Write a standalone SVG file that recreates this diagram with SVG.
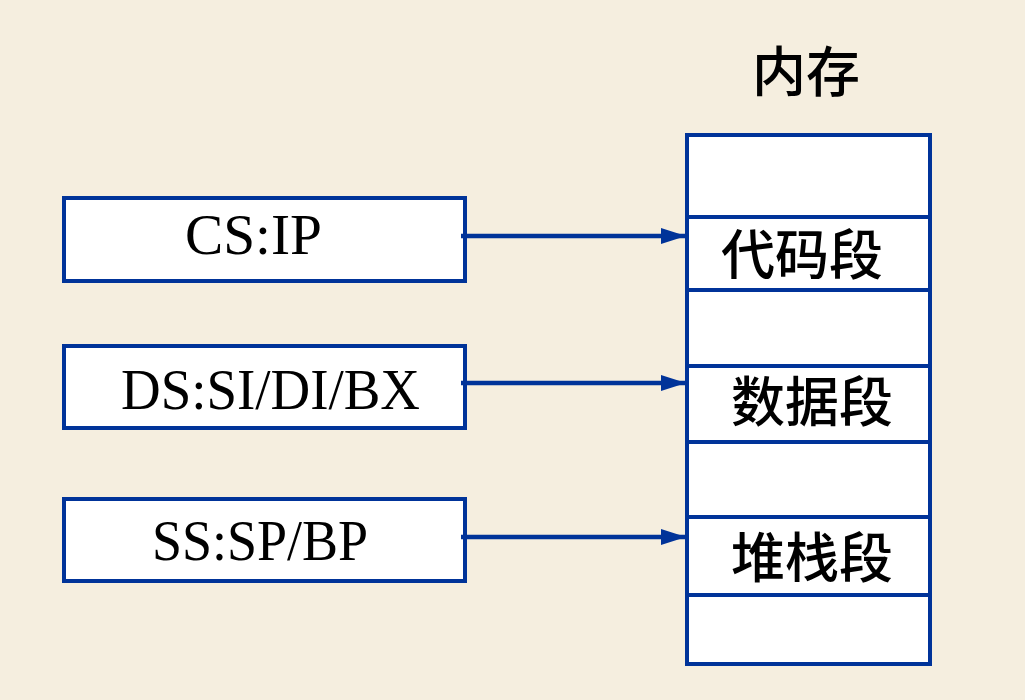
<svg xmlns="http://www.w3.org/2000/svg" width="1025" height="700" viewBox="0 0 1025 700">
<defs>
<style>
.box{fill:#ffffff;stroke:#003399;stroke-width:4}
.div{stroke:#003399;stroke-width:4}
.lat{font-family:"Liberation Serif","Times New Roman",serif;font-size:56px;fill:#000}
.cjk{font-family:"Noto Sans CJK SC","Noto Sans CJK TC",sans-serif;font-size:54px;font-weight:500;fill:#000;text-anchor:middle}
.con{stroke:#003399;stroke-width:4.5;fill:none}
</style>
<marker id="ah" markerUnits="userSpaceOnUse" markerWidth="26" markerHeight="18" refX="25" refY="8" orient="auto">
<path d="M0,0 L25,8 L0,16 Z" fill="#003399"/>
</marker>
</defs>
<rect x="0" y="0" width="1025" height="700" fill="#f5eedf"/>
<g id="title">
<text class="cjk" x="806" y="92">内存</text>
</g>
<g id="memory">
<rect class="box" x="687" y="135" width="243" height="529"/>
<line class="div" x1="687" y1="217" x2="930" y2="217"/>
<line class="div" x1="687" y1="290" x2="930" y2="290"/>
<line class="div" x1="687" y1="366" x2="930" y2="366"/>
<line class="div" x1="687" y1="442" x2="930" y2="442"/>
<line class="div" x1="687" y1="517" x2="930" y2="517"/>
<line class="div" x1="687" y1="595" x2="930" y2="595"/>
</g>
<g id="code-seg"><text class="cjk" x="802" y="275">代码段</text></g>
<g id="data-seg"><text class="cjk" x="812" y="422">数据段</text></g>
<g id="stack-seg"><text class="cjk" x="812" y="578">堆栈段</text></g>
<g id="cs-ip">
<rect class="box" x="64" y="198" width="401" height="83"/>
<text class="lat" x="185" y="254" textLength="137" lengthAdjust="spacingAndGlyphs">CS:IP</text>
</g>
<g id="ds">
<rect class="box" x="64" y="346" width="401" height="82"/>
<text class="lat" x="121" y="409" textLength="299" lengthAdjust="spacingAndGlyphs">DS:SI/DI/BX</text>
</g>
<g id="ss">
<rect class="box" x="64" y="499" width="401" height="82"/>
<text class="lat" x="152" y="560" textLength="216" lengthAdjust="spacingAndGlyphs">SS:SP/BP</text>
</g>
<g id="connectors">
<line class="con" x1="461" y1="236" x2="686" y2="236" marker-end="url(#ah)"/>
<line class="con" x1="461" y1="383" x2="686" y2="383" marker-end="url(#ah)"/>
<line class="con" x1="461" y1="537" x2="686" y2="537" marker-end="url(#ah)"/>
</g>
</svg>
